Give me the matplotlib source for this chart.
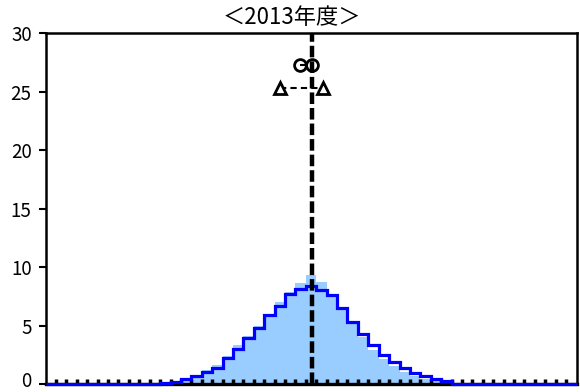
import numpy as np
import matplotlib
matplotlib.use("Agg")
import matplotlib.pyplot as plt
from matplotlib.transforms import ScaledTranslation

plt.rcParams['font.family'] = ['Noto Sans CJK JP', 'DejaVu Sans']

# histogram bins: unit width, edges 0..51
bin_edges = np.arange(0, 52)

# non-zero bins start at index 11
start_bin = 11
dist_line = [0.1, 0.15, 0.45, 0.7, 1.05, 1.35, 2.2, 3.0, 3.9, 4.8, 5.9, 6.7,
             7.7, 8.15, 8.35, 8.0, 7.6, 6.5, 5.3, 4.3, 3.35, 2.5, 1.9, 1.35,
             0.95, 0.7, 0.45, 0.25]
dist_fill = [0.05, 0.2, 0.5, 0.8, 1.2, 1.6, 2.4, 3.3, 4.1, 5.0, 6.0, 7.0,
             7.9, 8.6, 9.3, 8.7, 7.6, 6.4, 5.1, 4.0, 2.9, 2.1, 1.5, 1.0,
             0.65, 0.4, 0.25, 0.1]

mean_x = 25.6
circle_x = [24.45, 25.55]
circle_y = [27.3, 27.3]
triangle_x = [22.5, 26.65]
triangle_y = [25.3, 25.3]

y_ticks = [0, 5, 10, 15, 20, 25, 30]
title = "＜2013年度＞"


def full_bins(vals):
    out = np.zeros(len(bin_edges) - 1)
    out[start_bin:start_bin + len(vals)] = vals
    return out


fig = plt.figure(figsize=(5.8, 3.92), dpi=100)
ax = fig.add_axes([0.0786, 0.0204, 0.9154, 0.8954])

ax.stairs(full_bins(dist_fill), bin_edges, fill=True, color='#99CCFF',
          zorder=1)
ax.stairs(full_bins(dist_line), bin_edges, color='#0000FF', linewidth=2.3,
          zorder=3, clip_on=False)

ax.plot([mean_x, mean_x], [0, 30], color='black', linewidth=3.2,
        linestyle=(0, (2.6, 0.9)), zorder=4)

ax.plot(triangle_x, triangle_y, color='black', linewidth=1.5,
        linestyle=(0, (3, 2)), marker='^', markersize=9,
        markerfacecolor='white', markeredgecolor='black',
        markeredgewidth=2, zorder=5)
ax.plot(circle_x, circle_y, color='black', linewidth=1.5,
        linestyle=(0, (3, 2)), marker='o', markersize=8.5,
        markerfacecolor='none', markeredgecolor='black',
        markeredgewidth=2, zorder=5)

ax.set_xlim(0, 51)
ax.set_ylim(0, 30)
ax.set_yticks(y_ticks)
ax.set_xticks(np.arange(1, 51))
ax.set_xticklabels([])
ax.tick_params(axis='y', direction='out', length=5, width=1.5,
               labelsize=13.5, pad=5)
ax.tick_params(axis='x', direction='in', length=3.5, width=2.5)
for s in ax.spines.values():
    s.set_linewidth(1.8)
ax.spines['bottom'].set_linewidth(2.4)

# nudge the bottom label up so it stays inside the canvas
lbl0 = ax.get_yticklabels()[0]
lbl0.set_transform(lbl0.get_transform() +
                   ScaledTranslation(0, 5.5 / 100, fig.dpi_scale_trans))

fig.text(292 / 580, 1 - 18 / 392, title, ha='center', va='center',
         fontsize=16)

fig.savefig('out.png', dpi=100)
